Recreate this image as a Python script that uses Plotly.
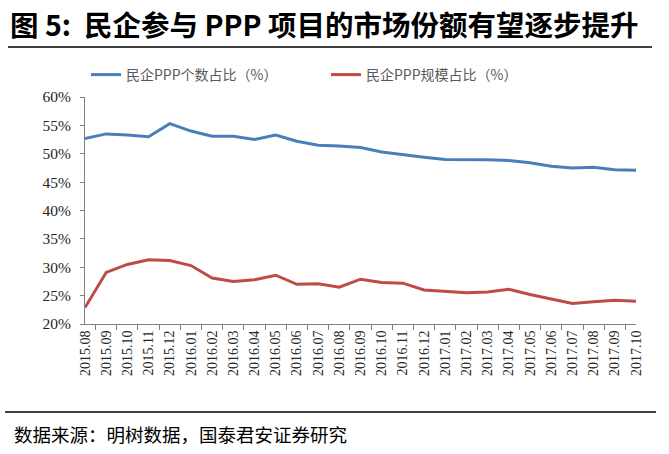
import plotly.graph_objects as go

months = ["2015.08","2015.09","2015.10","2015.11","2015.12","2016.01","2016.02","2016.03",
          "2016.04","2016.05","2016.06","2016.07","2016.08","2016.09","2016.10","2016.11",
          "2016.12","2017.01","2017.02","2017.03","2017.04","2017.05","2017.06","2017.07",
          "2017.08","2017.09","2017.10"]
count_share = [52.7,53.5,53.3,53.0,55.3,54.0,53.1,53.1,52.5,53.3,52.2,51.5,51.35,51.1,50.3,49.8,
               49.4,49.0,49.0,48.95,48.8,48.4,47.8,47.5,47.6,47.2,47.1]
scale_share = [22.9,29.1,30.5,31.3,31.2,30.3,28.1,27.5,27.8,28.6,27.0,27.1,26.5,27.9,27.3,27.2,
               26.0,25.8,25.5,25.65,26.1,25.2,24.35,23.6,23.9,24.2,24.0]
y_ticks = [20,25,30,35,40,45,50,55,60]
y_ticktext = [f"{v}%" for v in y_ticks]

title_text = "图 5:  民企参与 PPP 项目的市场份额有望逐步提升"
source_text = "数据来源：明树数据，国泰君安证券研究"
name1 = "民企PPP个数占比（%）"
name2 = "民企PPP规模占比（%）"

W, H = 669, 454
ml, mr, mt, mb = 85, 33, 97, 130
pw = W - ml - mr
ph = H - mt - mb

def px_x(x):
    return (x - ml) / pw

def px_y(y):
    return (H - mb - y) / ph

fig = go.Figure()
fig.add_trace(go.Scatter(x=months, y=count_share, mode="lines", name=name1, legend="legend",
                         line=dict(color="#4a7ebb", width=3)))
fig.add_trace(go.Scatter(x=months, y=scale_share, mode="lines", name=name2, legend="legend2",
                         line=dict(color="#be4b48", width=3)))

legend_font = dict(family="Noto Sans CJK SC", size=14, color="#595959")

fig.update_layout(
    width=W, height=H,
    margin=dict(l=ml, r=mr, t=mt, b=mb),
    paper_bgcolor="white", plot_bgcolor="white",
    showlegend=True,
    legend=dict(orientation="h", x=px_x(86), y=px_y(75), xanchor="left", yanchor="middle",
                font=legend_font, bgcolor="rgba(0,0,0,0)", itemwidth=30),
    legend2=dict(orientation="h", x=px_x(326), y=px_y(75), xanchor="left", yanchor="middle",
                 font=legend_font, bgcolor="rgba(0,0,0,0)", itemwidth=30),
    xaxis=dict(type="category", showline=True, linecolor="#7f7f7f", linewidth=1,
               ticks="outside", ticklen=5, tickcolor="#7f7f7f", tickson="boundaries",
               tickangle=-90, showgrid=False, zeroline=False,
               tickfont=dict(family="Liberation Serif", size=14, color="#262626")),
    yaxis=dict(range=[20, 60], tickvals=y_ticks, ticktext=y_ticktext,
               showline=True, linecolor="#7f7f7f", linewidth=1,
               ticks="outside", ticklen=4, tickcolor="#7f7f7f", ticklabelstandoff=6,
               showgrid=False, zeroline=False,
               tickfont=dict(family="Liberation Serif", size=15.5, color="#262626")),
    annotations=[
        dict(text="<b>" + title_text + "</b>", xref="paper", yref="paper",
             x=px_x(8), y=px_y(24), xanchor="left", yanchor="middle", showarrow=False,
             font=dict(family="Noto Sans CJK SC", size=28.5, color="black")),
        dict(text=source_text, xref="paper", yref="paper",
             x=px_x(12), y=px_y(434), xanchor="left", yanchor="middle", showarrow=False,
             font=dict(family="Noto Sans CJK SC", size=18.5, color="black")),
    ],
    shapes=[
        dict(type="line", xref="paper", yref="paper", x0=px_x(8), x1=px_x(652),
             y0=px_y(47), y1=px_y(47), line=dict(color="black", width=1.5)),
        dict(type="line", xref="paper", yref="paper", x0=px_x(5), x1=px_x(656),
             y0=px_y(412), y1=px_y(412), line=dict(color="black", width=1.5)),
    ],
)

fig.write_html("out.html")
